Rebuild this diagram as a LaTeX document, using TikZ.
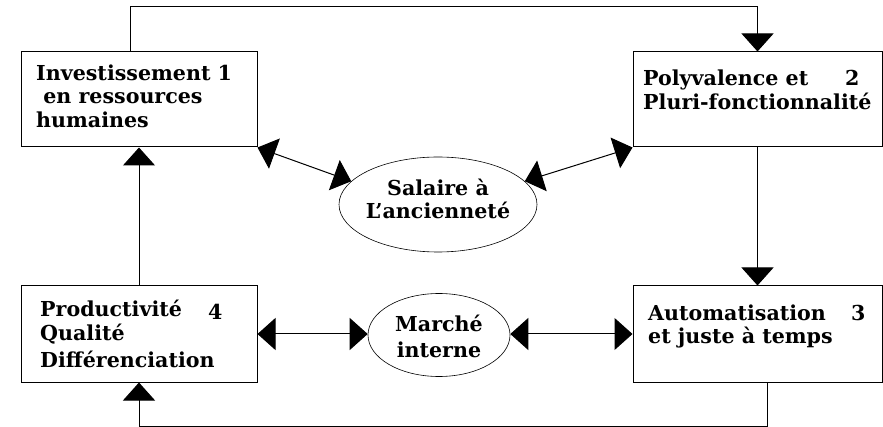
\documentclass[tikz,border=0pt]{standalone}
\usepackage{fontspec}
\setmainfont{DejaVu Serif}
\usetikzlibrary{arrows.meta,shapes.geometric}
\begin{document}
\begin{tikzpicture}[x=1pt,y=-1pt,
  box/.style={draw,line width=1pt,rectangle,inner sep=0pt},
  oval/.style={draw,line width=0.6pt,ellipse,inner sep=0pt},
  lbl/.style={anchor=base west,inner sep=0pt,font=\fontsize{20.6}{24}\selectfont\bfseries},
  clbl/.style={anchor=base,inner sep=0pt,font=\fontsize{20.6}{24}\selectfont\bfseries},
  link/.style={line width=1pt},
  tip/.style={-{Triangle[length=18pt,width=32pt]}},
  dtip/.style={{Triangle[length=18pt,width=32pt]}-{Triangle[length=18pt,width=32pt]}}]
\useasboundingbox (0,0) rectangle (883,427);
% boxes
\node[box,minimum width=236pt,minimum height=95pt] (b1) at (139,99.5) {};
\node[box,minimum width=249pt,minimum height=95pt] (b2) at (757.5,99.5) {};
\node[box,minimum width=249pt,minimum height=96pt] (b3) at (757.5,334) {};
\node[box,minimum width=236pt,minimum height=96pt] (b4) at (139,334) {};
% ellipses
\node[oval,minimum width=198pt,minimum height=95pt] (sal) at (438,204.5) {};
\node[oval,minimum width=142pt,minimum height=83pt] (mar) at (439,335) {};
% texts
\node[lbl] (t1a) at (36,81) {Investissement 1};
\node[lbl] (t1b) at (36,104) {\ en ressources};
\node[lbl] (t1c) at (36,128) {humaines};
\node[lbl] (t2a) at (643,86) {Polyvalence et};
\node[lbl] (t2n) at (845,86) {2};
\node[lbl] (t2b) at (643,110) {Pluri-fonctionnalité};
\node[lbl] (t3a) at (648,321) {Automatisation};
\node[lbl] (t3n) at (851,321) {3};
\node[lbl] (t3b) at (648,344) {et juste à temps};
\node[lbl] (t4a) at (40,317) {Productivité};
\node[lbl] (t4n) at (208,320) {4};
\node[lbl] (t4b) at (40,341) {Qualité};
\node[lbl] (t4c) at (40,367) {Différenciation};
\node[clbl] (ts1) at (438,196) {Salaire à};
\node[clbl] (ts2) at (438,219) {L'ancienneté};
\node[clbl] (tm1) at (439,332) {Marché};
\node[clbl] (tm2) at (439,357) {interne};
% coordinates
\coordinate (c1) at (130,52);
\coordinate (c2) at (130,7);
\coordinate (c3) at (757.5,7);
\coordinate (d1) at (767,382);
\coordinate (d2) at (767,426);
\coordinate (d3) at (139,426);
% connectors
\draw[link,tip] (c1) -- (c2) -- (c3) -- (b2.north);
\draw[link,tip] (b2.south) -- (b3.north);
\draw[link,tip] (d1) -- (d2) -- (d3) -- (b4.south);
\draw[link,tip] (b4.north) -- (b1.south);
\draw[link,dtip] (b1.south east) -- (sal.165);
\draw[link,dtip] (b2.south west) -- (sal.15);
\draw[link,dtip] (b4.east) -- (b4.east -| mar.west);
\draw[link,dtip] (b3.west -| mar.east) -- (b3.west);
\end{tikzpicture}
\end{document}
